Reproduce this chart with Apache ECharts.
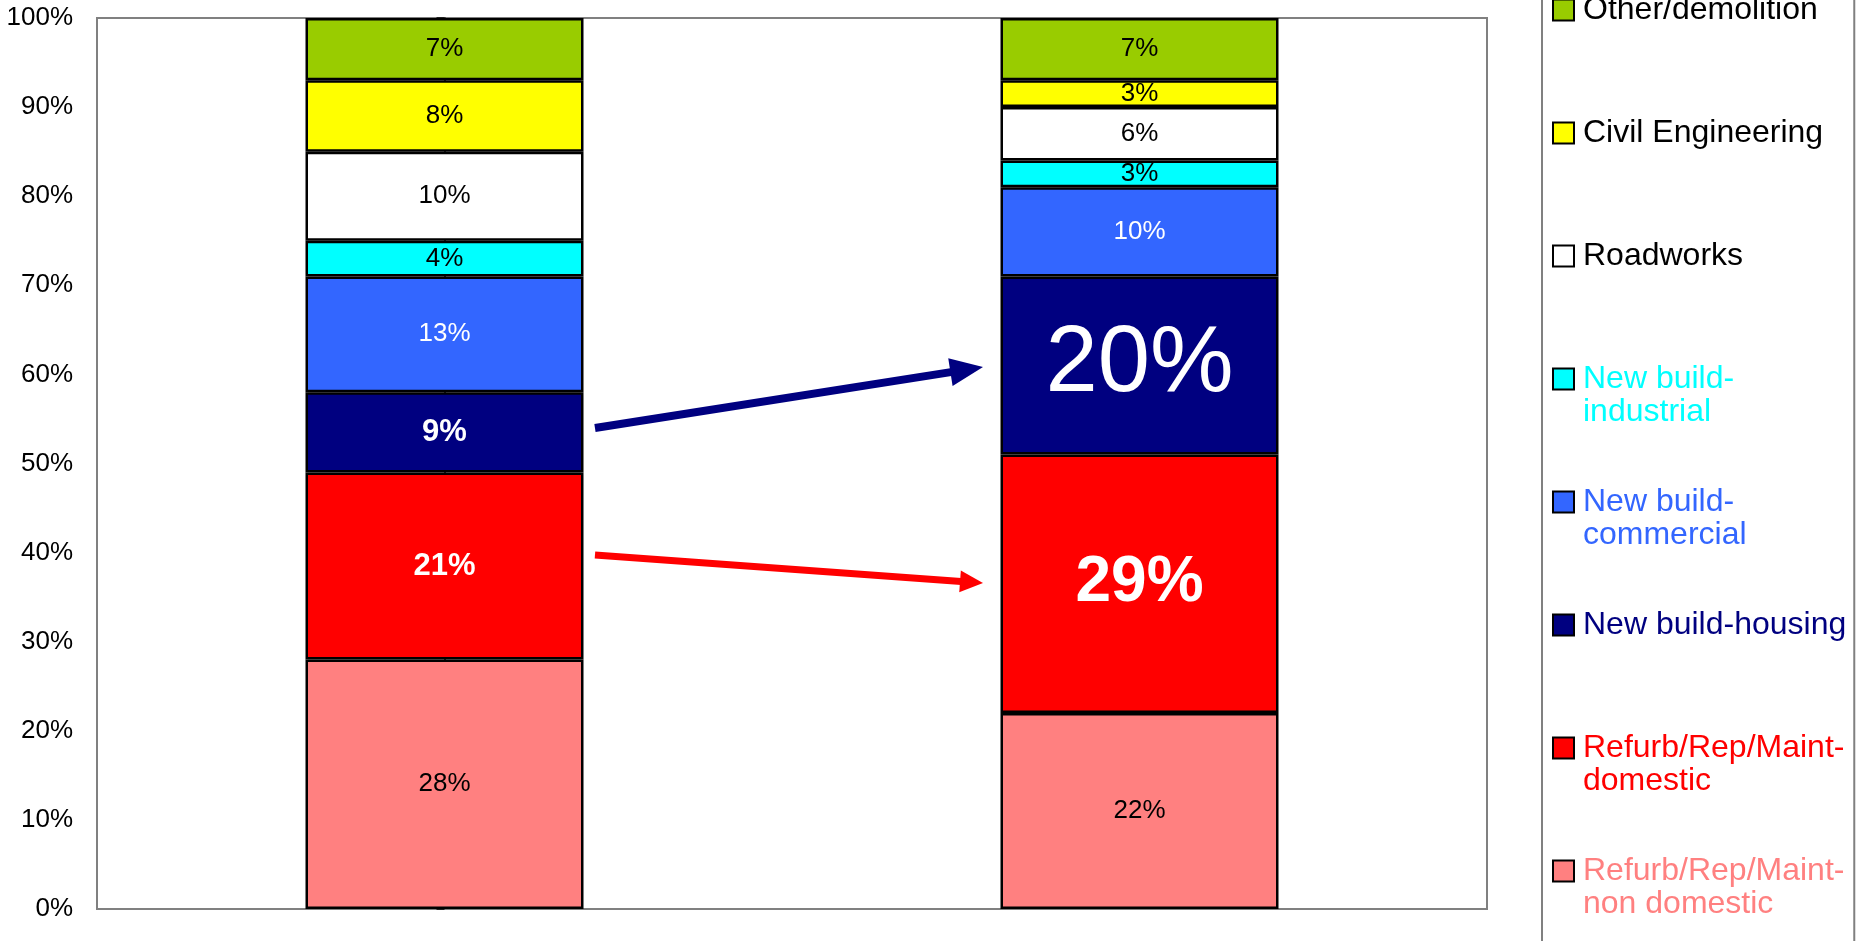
<!DOCTYPE html>
<html>
<head>
<meta charset="utf-8">
<script src="https://cdn.jsdelivr.net/npm/echarts@6/dist/echarts.min.js"></script>
<style>
html,body{margin:0;padding:0;background:#fff;}
#chart{width:1861px;height:941px;}
</style>
</head>
<body>
<div id="chart"></div>
<script>
// ---- data ----
const categories = ['Bar 1', 'Bar 2'];
const yTicks = [0, 10, 20, 30, 40, 50, 60, 70, 80, 90, 100];
// stack order, bottom to top
const seriesNames = [
  'Refurb/Rep/Maint-non domestic',
  'Refurb/Rep/Maint-domestic',
  'New build-housing',
  'New build-commercial',
  'New build-industrial',
  'Roadworks',
  'Civil Engineering',
  'Other/demolition'
];
const refurbNonDomestic = [28, 22];
const refurbDomestic = [21, 29];
const newBuildHousing = [9, 20];
const newBuildCommercial = [13, 10];
const newBuildIndustrial = [4, 3];
const roadworks = [10, 6];
const civilEngineering = [8, 3];
const otherDemolition = [7, 7];
// arrows: [x (category index units), y (%)] start and end
const housingArrow = [[0.2165, 53.98], [0.7514, 60.54]];
const domesticArrow = [[0.2165, 39.73], [0.7583, 36.68]];

// ---- styles ----
const FONT = '"Liberation Sans", Arial, sans-serif';
const colors = ['#FF8080', '#FF0000', '#000080', '#3366FF', '#00FFFF', '#FFFFFF', '#FFFF00', '#99CC00'];
const legendTextColors = ['#FF8080', '#FF0000', '#000080', '#3366FF', '#00FFFF', '#000000', '#000000', '#000000'];
const legendLabels = {
  'Refurb/Rep/Maint-non domestic': 'Refurb/Rep/Maint-\nnon domestic',
  'Refurb/Rep/Maint-domestic': 'Refurb/Rep/Maint-\ndomestic',
  'New build-commercial': 'New build-\ncommercial',
  'New build-industrial': 'New build-\nindustrial'
};
const baseLabel = {color: '#000', fontSize: 26, fontWeight: 'normal'};
const labelStyles = {
  'Refurb/Rep/Maint-domestic': [
    {color: '#fff', fontSize: 31, fontWeight: 'bold'},
    {color: '#fff', fontSize: 64, fontWeight: 'bold'}
  ],
  'New build-housing': [
    {color: '#fff', fontSize: 31, fontWeight: 'bold'},
    {color: '#fff', fontSize: 94, fontWeight: 'normal'}
  ],
  'New build-commercial': [
    {color: '#fff', fontSize: 26, fontWeight: 'normal'},
    {color: '#fff', fontSize: 26, fontWeight: 'normal'}
  ]
};

const seriesValues = [refurbNonDomestic, refurbDomestic, newBuildHousing, newBuildCommercial,
  newBuildIndustrial, roadworks, civilEngineering, otherDemolition];

const barSeries = seriesNames.map((name, i) => ({
  name: name,
  type: 'bar',
  stack: 'total',
  barWidth: '40%',
  xAxisIndex: 0,
  itemStyle: {color: colors[i], borderColor: '#000', borderWidth: 2.5},
  label: {
    show: true, position: 'inside', fontFamily: FONT,
    formatter: p => p.value + '%'
  },
  emphasis: {disabled: true},
  data: seriesValues[i].map((v, j) => ({
    value: v,
    label: Object.assign({}, baseLabel, (labelStyles[name] || [])[j] || {})
  }))
}));

const arrowSeries = {
  type: 'line',
  xAxisIndex: 1,
  yAxisIndex: 0,
  data: [],
  silent: true,
  markLine: {
    silent: true,
    animation: false,
    symbol: ['none', 'triangle'],
    label: {show: false},
    emphasis: {disabled: true},
    data: [
      [
        {coord: housingArrow[0], lineStyle: {color: '#000080', width: 8, type: 'solid'}, symbolSize: [28, 33]},
        {coord: housingArrow[1], symbolSize: [28, 33]}
      ],
      [
        {coord: domesticArrow[0], lineStyle: {color: '#FF0000', width: 7, type: 'solid'}, symbolSize: [22, 23]},
        {coord: domesticArrow[1], symbolSize: [22, 23]}
      ]
    ]
  }
};

const legendOrder = seriesNames.slice().reverse();

const option = {
  backgroundColor: '#fff',
  animation: false,
  textStyle: {fontFamily: FONT},
  grid: {
    left: 97, right: 374, top: 18, bottom: 32,
    show: true, borderColor: '#808080', borderWidth: 2, backgroundColor: 'transparent'
  },
  legend: {
    orient: 'vertical',
    left: 1542,
    top: -99.5,
    height: 1200,
    padding: [60, 8, 60, 10],
    itemGap: 24,
    itemWidth: 21,
    itemHeight: 21,
    icon: 'rect',
    borderColor: '#808080',
    borderWidth: 2,
    selectedMode: false,
    textStyle: {fontSize: 32, lineHeight: 33, fontFamily: FONT, padding: [0, 0, 0, 4]},
    formatter: name => legendLabels[name] ? '\n' + legendLabels[name] : '\n' + name + '\n',
    data: legendOrder.map(name => ({
      name: name,
      textStyle: {color: legendTextColors[seriesNames.indexOf(name)]}
    }))
  },
  xAxis: [
    {
      type: 'category',
      data: categories,
      axisLine: {show: true, lineStyle: {color: '#808080', width: 2}},
      axisTick: {show: false},
      axisLabel: {show: false},
      splitLine: {show: false}
    },
    {
      type: 'value',
      min: -0.5, max: 1.5,
      position: 'bottom',
      show: false,
      axisLine: {show: false},
      axisTick: {show: false},
      axisLabel: {show: false},
      splitLine: {show: false}
    }
  ],
  yAxis: {
    type: 'value',
    min: yTicks[0],
    max: yTicks[yTicks.length - 1],
    interval: 10,
    axisLine: {show: true, lineStyle: {color: '#000', width: 1.5}},
    axisTick: {show: true, inside: false, length: 8, lineStyle: {color: '#000', width: 1.5}},
    axisLabel: {
      formatter: '{value}%', color: '#000', fontSize: 26, margin: 24, fontFamily: FONT
    },
    splitLine: {show: false}
  },
  series: barSeries.concat([arrowSeries])
};

const chart = echarts.init(document.getElementById('chart'), null, {renderer: 'canvas'});
chart.setOption(option);
</script>
</body>
</html>
